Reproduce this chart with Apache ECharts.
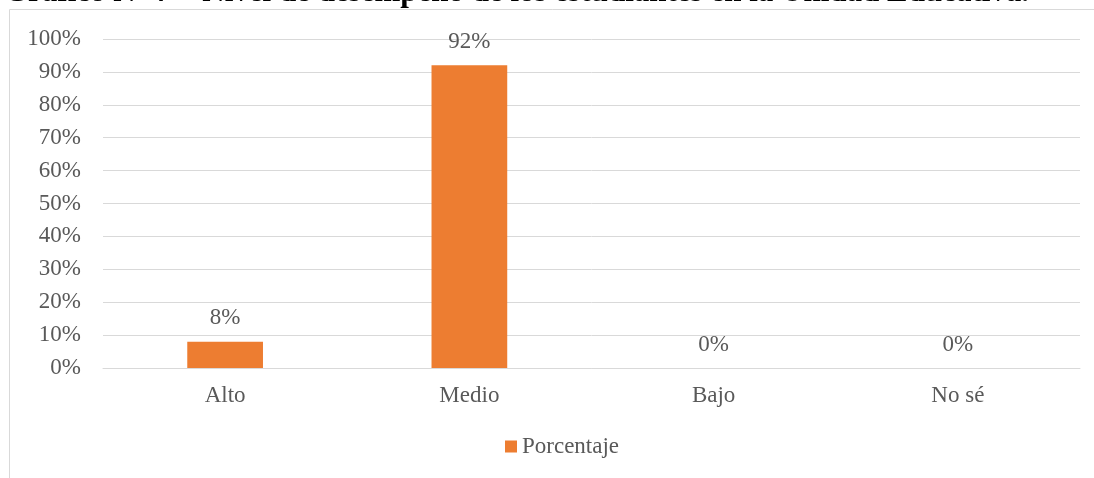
<!DOCTYPE html>
<html>
<head>
<meta charset="utf-8">
<script src="https://cdn.jsdelivr.net/npm/echarts@6/dist/echarts.min.js"></script>
<style>
  html, body { margin: 0; padding: 0; background: #fff; }
  #chart { width: 1094px; height: 478px; }
</style>
</head>
<body>
<div id="chart"></div>
<script>
// Nivel de desempeño: categorías y porcentajes
const categories = ['Alto', 'Medio', 'Bajo', 'No sé'];
const porcentaje = [8, 92, 0, 0];
const yTicks = { min: 0, max: 100, interval: 10 };
const seriesName = 'Porcentaje';
const titleText = 'Gráfico N° 7 – Nivel de desempeño de los estudiantes en la Unidad Educativa.';

const serif = '"Liberation Serif", "Times New Roman", serif';
const gray = '#595959';
const fs = 23;

const chart = echarts.init(document.getElementById('chart'));
chart.setOption({
  animation: false,
  graphic: [
    {
      type: 'rect',
      shape: { x: 9.5, y: 9.5, width: 1120, height: 520 },
      style: { fill: 'none', stroke: '#d9d9d9', lineWidth: 1 },
      silent: true
    },
    {
      type: 'text',
      left: 4,
      top: -23,
      style: {
        text: titleText,
        font: 'bold 31px ' + serif,
        fill: '#000'
      }
    }
  ],
  grid: { left: 103, right: 14, top: 39, bottom: 110 },
  legend: {
    bottom: 15,
    left: 500,
    itemWidth: 12,
    itemHeight: 12,
    icon: 'rect',
    textStyle: { fontFamily: serif, fontSize: fs, color: gray },
    data: [seriesName]
  },
  xAxis: {
    type: 'category',
    data: categories,
    axisLine: { show: true, lineStyle: { color: '#d9d9d9', width: 1 } },
    axisTick: { show: false },
    axisLabel: { fontFamily: serif, fontSize: fs, color: gray, margin: 16 }
  },
  yAxis: {
    type: 'value',
    min: yTicks.min,
    max: yTicks.max,
    interval: yTicks.interval,
    axisLine: { show: false },
    axisTick: { show: false },
    splitLine: { lineStyle: { color: '#d9d9d9', width: 1 } },
    axisLabel: {
      fontFamily: serif, fontSize: fs, color: gray, margin: 22,
      formatter: v => v + '%'
    }
  },
  series: [{
    name: seriesName,
    type: 'bar',
    data: porcentaje,
    barWidth: '31%',
    itemStyle: { color: '#ed7d31' },
    label: {
      show: true,
      position: 'top',
      distance: 12,
      fontFamily: serif,
      fontSize: fs,
      color: gray,
      formatter: p => p.value + '%'
    }
  }]
});
</script>
</body>
</html>
